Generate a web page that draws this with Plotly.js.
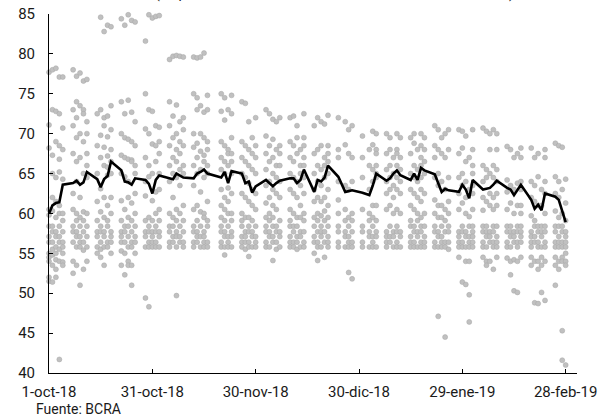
<!DOCTYPE html>
<html><head><meta charset="utf-8">
<script src="https://cdn.plot.ly/plotly-3.0.1.min.js"></script>
<style>html,body{margin:0;padding:0;background:#fff}#chart{width:603px;height:419px}</style>
</head><body><div id="chart"></div>
<script>
const dayDates = [
'2018-10-01','2018-10-02','2018-10-03','2018-10-04','2018-10-05',
'2018-10-08','2018-10-09','2018-10-10','2018-10-11','2018-10-12',
'2018-10-15','2018-10-16','2018-10-17','2018-10-18','2018-10-19',
'2018-10-22','2018-10-23','2018-10-24','2018-10-25','2018-10-26',
'2018-10-29','2018-10-30','2018-10-31','2018-11-01','2018-11-02',
'2018-11-05','2018-11-06','2018-11-07','2018-11-08','2018-11-09',
'2018-11-12','2018-11-13','2018-11-14','2018-11-15','2018-11-16',
'2018-11-20','2018-11-21','2018-11-22','2018-11-23',
'2018-11-26','2018-11-27','2018-11-28','2018-11-29','2018-11-30',
'2018-12-03','2018-12-04','2018-12-05','2018-12-06','2018-12-07',
'2018-12-10','2018-12-11','2018-12-12','2018-12-13','2018-12-14',
'2018-12-17','2018-12-18','2018-12-19','2018-12-20','2018-12-21',
'2018-12-24','2018-12-26','2018-12-27','2018-12-28','2018-12-31',
'2019-01-02','2019-01-03','2019-01-04',
'2019-01-07','2019-01-08','2019-01-09','2019-01-10','2019-01-11',
'2019-01-14','2019-01-15','2019-01-16','2019-01-17','2019-01-18',
'2019-01-21','2019-01-22','2019-01-23','2019-01-24','2019-01-25',
'2019-01-28','2019-01-29','2019-01-30','2019-01-31','2019-02-01',
'2019-02-04','2019-02-05','2019-02-06','2019-02-07','2019-02-08',
'2019-02-11','2019-02-12','2019-02-13','2019-02-14','2019-02-15',
'2019-02-18','2019-02-19','2019-02-20','2019-02-21','2019-02-22',
'2019-02-25','2019-02-26','2019-02-27','2019-02-28'];

const individualRates = [
[77.7,71.1,68.2,60.5,59.8,58.4,57.1,56.4,55,54.5,54,52,51.5],
[78,73,67.3,65,62,60.3,58.4,57.7,56.4,55.5,54.8,53.5,51.4],
[78.2,72.8,69,64.5,61.5,59.5,57.7,57.1,55.8,55,54.2,53,52],
[77.1,72.5,68.5,66.8,65.2,61,60,58.4,57.1,56.4,55.5,54,41.7],
[77.1,70.7,68,64.3,60,59.1,57.7,56.4,55.8,55,53.9,53.5],
[78,73,71,67.5,62.5,60.5,58.4,57.7,56.4,54,52.5],
[77.2,74,72,69.5,66.5,64,60,59.1,57.7,57.1,55.8,53.5],
[77.6,73.5,70,67,62,59.5,58.4,57.1,56.4,55.8,51],
[76.6,73,72.5,69,65,60.2,59.1,57.7,56.4,55.4,53],
[76.8,71.5,70,67.5,66,64.5,60,58.4,57.1,55.8,54],
[72.5,68.5,65,61.5,59.1,57.7,57.1,55.8,55],
[84.6,73,69.8,67,63.1,60.2,58.4,57.7,56.4,55.5,54.5],
[82.8,72,71,68.3,66,62,59.5,57.7,57.1,55.8,53.5],
[83.6,72.2,69.6,67.2,65.8,64.8,61,59.1,58.4,56.4,55.8],
[83.4,73.5,70.5,68,66.5,65,62,60,57.7,57.1,56.4,55],
[84.4,74,70,67.3,65,61.6,59.1,57.7,57.1,56.4,55.3,53.5],
[83.6,72.5,69.5,67,64.6,60.5,58.4,57.7,56.4,55,52.3],
[84.9,74.2,69.3,66.8,64,62,59.5,58.4,57.1,55.8,54,53.5],
[84.2,72.7,69,66.7,66.5,61.3,59.1,57.7,56.4,55.8,53.5,51],
[84,71.5,68.5,66,65,62.5,60,58.4,57.1,56.4,55],
[81.6,75,70.6,67,64,62.2,59.1,57.7,57.1,55.8,49.4],
[84.9,73,70,66,64.6,59.5,58.4,57.7,56.4,55.8,48.3],
[84.5,72.8,68.7,65,61.6,59.1,57.7,57.1,56.4,55.8],
[84.7,71,68.5,66.5,62.7,60,58.4,57.7,56.4,55.8],
[84.8,70.8,69,67.5,65,63,60.5,59.1,57.7,57.1,55.8],
[79.3,74,71,68.5,66,64,60,58.4,57.7,56.4,55.8],
[79.7,72.2,69.5,67,65,62,59.5,58.4,57.1,56.4],
[79.8,73.6,70,68,66.5,64.5,60.5,59.1,57.7,57.1,55.8,49.7],
[79.7,71.5,69,67.5,65.5,63.5,60,58.4,57.1,56.4],
[79.6,72,70.5,68.5,66,65,61,59.1,57.7,56.4,55.8],
[79.6,75,70,68.3,66,63.5,60.5,58.4,57.7,56.4,55.8],
[79.5,74.5,73,68.8,67,65,61,59.1,57.7,57.1,56.4],
[79.6,73.5,70,67.8,65.5,62.7,60.2,58.4,57.1,55.8],
[80.1,72.7,69.5,67.3,66.5,64.5,60,59.5,57.7,57.1,56.4,55.8],
[74.8,73,69,68,66,65,61.5,59.1,58.4,56.4,55.8],
[75,72.8,69,67,65.5,63,61,59.5,58.4,57.7,56.4,55.8],
[74.5,71.7,68.5,66.5,65,62,60.5,59.1,57.7,57.1,55.8,54.8],
[73,68,67.5,66,63.2,61.5,60,58.4,57.1,56.4,55.8],
[74.8,72.5,69.5,67.5,66.5,65,62.5,60,59.1,57.7,57.1,55.8],
[74,69,67,65,62.5,60,59.1,58.4,57.1,56.4,55.8],
[73.8,68.5,66.5,64.5,62,59.5,57.7,57.1,56.4,55.5],
[71.5,68,66,63.8,61.5,59.5,58.4,57.7,56.4,55.8,54.6],
[69.5,67.5,65.5,63,61,59.1,57.7,57.1,55.8],
[72,68.5,67,65,62.5,60.5,58.4,57.1,56.4,55.8],
[73,69.7,67.5,65.5,63.5,61.3,59.5,58.4,57.7,56.4,55.8],
[72.5,68.5,66.5,64,62,60,59.1,57.7,57.1,55.8],
[71.8,69.3,67,65,63,61,59.5,58.4,57.1,56.4,54.1],
[71.5,68,66,64.5,62.5,60.5,58.4,57.7,56.4,55.5],
[72,68.5,67.5,66,64,62,59.1,57.7,57.1,55.8],
[72,69,67,65,63,60.5,59.1,58.4,57.1,56.4,55.8],
[72.2,68.5,66.5,64.5,62.5,60,58.4,57.7,56.4,55.8],
[71,69.5,67.5,64,62,59.5,58.4,57.1,56.4,55.5],
[68,66,65,63.5,61,59.5,57.7,57.1,55.8],
[72.5,69.5,68.5,67,66,64.5,62.5,60,59.1,57.7,56.4,55.8],
[71,67.5,65,63,61.5,59.5,58.4,57.1,56.4,55],
[72,68,66,64,62,60,59.1,57.7,56.4,55.8,54.1],
[71.5,68.5,65.5,63.5,61.5,59.7,58.4,57.7,57.1,55.8],
[71.2,67,66,64.5,62,60.3,59.1,57.7,56.4,54.5],
[72.3,68.5,67.5,66.5,65,63,61,59.5,58.4,57.1,56.4,55.8],
[72,68,67,64,61.7,60,58.4,57.7,56.4,55.8],
[71.5,68.6,63.5,60.5,59.1,57.7,57.1,55.8],
[70.5,67.5,63,59.5,58.4,57.1,56.4,55.8,52.6],
[71,67,64,60,59.1,57.7,56.4,55.8,51.8],
[69.7,67,64.5,60.5,58.4,57.7,56.4,55.8],
[68,66,63,60,59.1,57.7,57.1,55.8],
[70.3,68.6,65.5,64,61,59.5,58.4,57.1,56.4,55.8],
[70,68,67.5,66,65,64.5,61,59.1,57.7,57.1,55.8],
[70,67.5,65.5,64,62.5,60.5,57.7,57.1,56.4,55.8],
[69.5,68,66,64.5,63,61,58.4,57.1,56.4],
[67,65,63.5,62,60,57.7,57.1,55.8],
[70,68,67.5,66,64.5,63,60.5,58.4,57.7,56.4,55.8],
[69.5,67,65.5,64,62.5,60,57.7,57.1,55.8],
[69.5,67.5,65,63,61,59.1,58.4,57.1,56.4,55.8],
[70,68.8,66,64.5,62.5,60.5,58.4,57.7,56.4,55.8],
[68,65.5,64,62,60,59.1,57.7,57.1,55.8],
[70,68.5,67,66,64.5,63,61.5,59.5,58.4,57.7,56.4,55.8],
[69.5,68,66.5,65,62.5,60,58.4,57.1,56.4,55.8],
[71,68.5,67,64.5,61.7,60,58.4,57.7,56.4,55.8],
[70.5,68,65,63.5,61,59.5,57.7,57.1,55.8,47.1],
[69.5,67.5,64,61,59.5,58.4,57.1,56.4,55.8],
[70,67,63,60.5,59.1,57.7,56.4,55.8,44.5],
[70.5,68,64.5,61.5,60,58.4,57.7,56.4,55.5],
[70.5,67.5,64.5,62.5,60.5,57.7,57.1,56.4,55.8,54.5],
[70.3,68.2,65,63.5,61.3,58.4,57.7,56.4,55.8,51.4],
[69.7,66.5,64,62,60,57.7,57.1,55.8,54,51.1],
[67,63,59.6,58.4,57.1,56.4,55.8,54,49.8,46.4],
[70.5,68,66,65,63.5,62.5,60.5,58.4,57.7,57.1,56.4,55.8],
[70.7,66,64,62,60.4,58.4,57.7,56.4,55.8,54.5],
[70.3,65.5,64.5,61.5,58.4,57.7,57.1,55.8,54,53.5],
[70,68,65,62.5,61,57.7,57.1,56.4,54],
[70.5,66,64.5,62,60.5,58.4,57.7,56.4,55.8,53],
[70,68,65.5,64,62.5,61,58.4,57.1,56.4,55.8,54.5],
[68.4,64.2,62.7,60.5,58.4,57.7,56.4,55.8,54.4],
[68,63.5,61.3,58.4,57.7,57.1,55.8,54,52.3],
[67,63,60,57.7,57.1,56.4,54.2,50.3],
[67.5,63.8,61,58.4,57.7,56.4,55.8,54,50.1],
[68.2,67,64,63,61,60,58.4,57.7,57.1,56.4,54.5],
[68.2,64,62,59.7,57.7,57.1,56.4,55.8,54.5,53.5],
[67,63.5,61.5,59.1,58.4,57.1,56.4,54,48.8],
[67.5,64.6,61,58.4,57.7,56.4,55.8,54,53,48.7],
[63,61,58.4,57.7,57.1,55.8,54.5,53.5,50.1],
[68,67,64,62.5,60,58.4,57.7,56.4,55.8,54,49.1],
[68.8,64.6,62.5,60.3,58.4,57.7,56.4,55.8,54.5,53.5,51],
[68.5,64,62,59.5,58.4,57.1,56.4,55.8,54,53],
[68.3,63,60,58.4,57.7,56.4,55.8,54.5,54,45.3,41.6],
[64.3,61.3,59.1,57.7,57.1,56.4,55.8,55,54,53.5,41]];

const dailyAverage = [
60.0,61.0,61.3,61.4,63.6,
63.8,64.1,63.6,63.9,65.2,
64.3,63.3,64.3,64.7,66.5,
65.4,64.0,63.9,63.6,64.4,
64.2,63.7,62.5,64.2,64.75,
64.4,64.3,65.0,64.8,64.5,
64.4,65.0,65.2,65.5,65.0,
64.5,65.2,63.8,65.3,
65.0,63.8,64.0,62.6,63.4,
64.2,63.8,63.4,63.8,64.1,
64.4,64.4,63.8,64.2,65.5,
62.7,64.2,64.0,64.5,66.0,
64.6,62.7,62.8,62.9,62.6,
62.3,63.5,65.0,
64.1,64.4,65.0,65.4,64.8,
64.2,65.0,64.2,65.7,65.4,
64.9,63.8,62.7,63.1,62.9,
62.7,63.6,63.0,61.9,64.2,
63.0,63.1,63.2,63.6,64.1,
63.2,63.0,62.3,63.0,63.6,
61.7,60.6,61.1,60.4,62.5,
62.1,61.7,60.2,58.9];

const tickDates = ['2018-10-01','2018-10-31','2018-11-30','2018-12-30','2019-01-29','2019-02-28'];
const tickLabels = ['1-oct-18','31-oct-18','30-nov-18','30-dic-18','29-ene-19','28-feb-19'];

const dotX = [], dotY = [];
dayDates.forEach((d, i) => {
  individualRates[i].forEach(v => { dotX.push(d); dotY.push(v); });
});

const font = {family: 'Roboto, "Liberation Sans", sans-serif', size: 15, color: '#1a1a1a'};

const traces = [
  {type: 'scatter', mode: 'markers', x: dotX, y: dotY, cliponaxis: false,
   marker: {size: 5, color: '#c0c0c0', line: {color: '#a6a6a6', width: 0.5}},
   hoverinfo: 'skip', showlegend: false},
  {type: 'scatter', mode: 'lines', x: dayDates, y: dailyAverage, cliponaxis: false,
   line: {color: '#000000', width: 2.6}, showlegend: false}
];

const layout = {
  width: 603, height: 419,
  margin: {l: 49, r: 26, t: 14, b: 46},
  paper_bgcolor: '#ffffff', plot_bgcolor: '#ffffff',
  font: font,
  showlegend: false,
  xaxis: {type: 'date', range: ['2018-10-01', '2019-03-03 07:00'],
    tickmode: 'array', tickvals: tickDates, ticktext: tickLabels,
    ticks: 'inside', ticklen: 4, tickwidth: 1, tickcolor: '#000',
    showline: true, linecolor: '#000', linewidth: 1,
    showgrid: false, zeroline: false, tickfont: font, ticklabelstandoff: 5},
  yaxis: {range: [40, 85], tick0: 40, dtick: 5,
    ticks: 'inside', ticklen: 4, tickwidth: 1, tickcolor: '#000',
    showline: true, linecolor: '#000', linewidth: 1,
    showgrid: false, zeroline: false, tickfont: font, ticklabelstandoff: 10},
  annotations: [
    {xref: 'paper', yref: 'paper', x: -0.028, y: -0.1, xanchor: 'left', yanchor: 'middle',
     text: 'Fuente: BCRA', showarrow: false,
     font: {family: 'Roboto, sans-serif', size: 14, color: '#1a1a1a'}},
    {xref: 'paper', yref: 'paper', x: 0.54, y: 1.029, xanchor: 'center', yanchor: 'bottom',
     text: '(en por ciento nominal anual de las entidades financieras)', showarrow: false,
     font: {family: 'Roboto, sans-serif', size: 14, color: '#1a1a1a'}}
  ]
};

Plotly.newPlot('chart', traces, layout, {displayModeBar: false, staticPlot: true});
</script>
</body></html>
